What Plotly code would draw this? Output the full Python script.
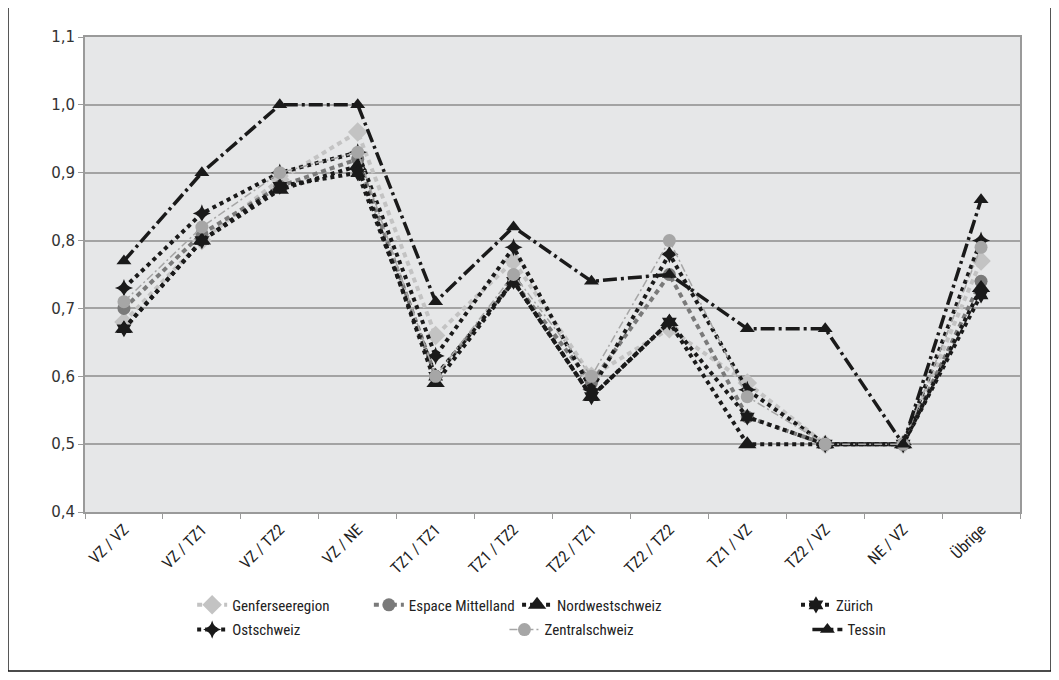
import plotly.graph_objects as go

categories = ["VZ / VZ", "VZ / TZ1", "VZ / TZ2", "VZ / NE", "TZ1 / TZ1", "TZ1 / TZ2",
              "TZ2 / TZ1", "TZ2 / TZ2", "TZ1 / VZ", "TZ2 / VZ", "NE / VZ", "Übrige"]

genferseeregion = [0.68, 0.80, 0.89, 0.96, 0.66, 0.77, 0.60, 0.67, 0.59, 0.50, 0.50, 0.77]
espace_mittelland = [0.70, 0.81, 0.88, 0.92, 0.60, 0.74, 0.59, 0.75, 0.54, 0.50, 0.50, 0.74]
nordwestschweiz = [0.67, 0.80, 0.875, 0.91, 0.59, 0.74, 0.57, 0.68, 0.50, 0.50, 0.50, 0.73]
zuerich = [0.67, 0.80, 0.88, 0.90, 0.60, 0.74, 0.57, 0.68, 0.54, 0.50, 0.50, 0.72]
ostschweiz = [0.73, 0.84, 0.90, 0.93, 0.63, 0.79, 0.58, 0.78, 0.58, 0.50, 0.50, 0.80]
zentralschweiz = [0.71, 0.82, 0.90, 0.93, 0.60, 0.75, 0.60, 0.80, 0.57, 0.50, 0.50, 0.79]
tessin = [0.77, 0.90, 1.00, 1.00, 0.71, 0.82, 0.74, 0.75, 0.67, 0.67, 0.50, 0.86]

series = [
    ("Genferseeregion", genferseeregion, dict(color="#c3c3c3", width=4, dash="5px,4px"),
     dict(symbol="diamond", size=15, color="#c3c3c3")),
    ("Espace Mittelland", espace_mittelland, dict(color="#7a7a7a", width=4, dash="5px,4px"),
     dict(symbol="circle", size=13, color="#7a7a7a")),
    ("Nordwestschweiz", nordwestschweiz, dict(color="#1a1a1a", width=4, dash="4px,4px"),
     dict(symbol="triangle-up", size=16, color="#1a1a1a")),
    ("Zürich", zuerich, dict(color="#1a1a1a", width=4, dash="4px,4px"),
     dict(symbol="hexagram", size=13, color="#1a1a1a")),
    ("Ostschweiz", ostschweiz, dict(color="#1a1a1a", width=4, dash="4px,4px"),
     dict(symbol="star-diamond", size=13, color="#1a1a1a")),
    ("Zentralschweiz", zentralschweiz, dict(color="#a6a6a6", width=1.5, dash="8px,3px,2px,3px"),
     dict(symbol="circle", size=13, color="#a6a6a6")),
    ("Tessin", tessin, dict(color="#1a1a1a", width=3.5, dash="14px,4px,3px,4px"),
     dict(symbol="triangle-up", size=13, color="#1a1a1a")),
]

# legend placement (paper coords)
leg_pos = [(0.1146, -0.196), (0.3036, -0.196), (0.4621, -0.196), (0.7604, -0.196),
           (0.1146, -0.248), (0.4486, -0.248), (0.7726, -0.248)]

FONT = "Liberation Sans Narrow, Arial Narrow, Roboto Condensed, sans-serif"

fig = go.Figure()
layout_legends = {}
for i, ((name, vals, line, marker), (lx, ly)) in enumerate(zip(series, leg_pos)):
    lname = "legend" if i == 0 else f"legend{i+1}"
    fig.add_trace(go.Scatter(x=categories, y=vals, name=name, mode="lines+markers",
                             line=line, marker=marker, legend=lname))
    layout_legends[lname] = dict(x=lx, y=ly, xanchor="left", yanchor="middle",
                                 bgcolor="rgba(0,0,0,0)", borderwidth=0,
                                 font=dict(family=FONT, size=15, color="#222222"))

fig.update_layout(
    width=1059, height=680,
    margin=dict(l=77, r=47, t=29, b=176, autoexpand=False),
    paper_bgcolor="white",
    plot_bgcolor="#e6e7e8",
    separators=", ",
    showlegend=True,
    **layout_legends,
    xaxis=dict(
        type="category", tickson="boundaries", ticks="outside", ticklen=5,
        tickcolor="#9a9a9a", tickangle=-45, automargin=False,
        tickfont=dict(family=FONT, size=16, color="#222222"),
        showgrid=False, showline=True, linecolor="#9a9a9a", linewidth=2, mirror=True,
        range=[-0.5, 11.5], zeroline=False,
    ),
    yaxis=dict(
        range=[0.4, 1.1], dtick=0.1, tick0=0.4, tickformat=".1f", automargin=False,
        ticks="outside", ticklen=5, tickcolor="#9a9a9a",
        tickfont=dict(family="DejaVu Sans, sans-serif", size=15, color="#333333"),
        showgrid=True, gridcolor="#a3a3a3", gridwidth=1.5,
        showline=True, linecolor="#9a9a9a", linewidth=2, mirror=True, zeroline=False,
    ),
    shapes=[dict(type="rect", xref="paper", yref="paper",
                 x0=-0.0824, x1=1.0332, y0=-0.3347, y1=1.0758,
                 line=dict(color="#111111", width=1.5), fillcolor="rgba(0,0,0,0)",
                 layer="below")],
)

fig.write_html("out.html")
